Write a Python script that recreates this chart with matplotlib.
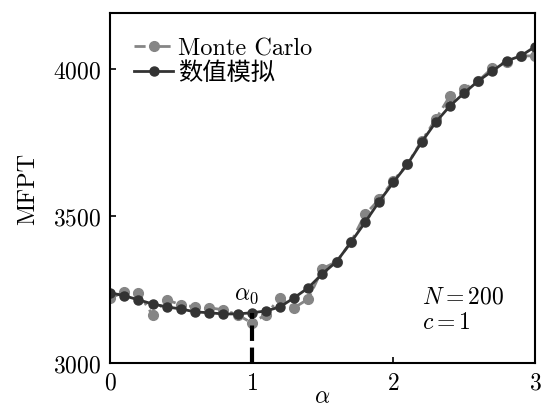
import matplotlib
matplotlib.use('Agg')
import matplotlib.pyplot as plt
import numpy as np

plt.rcParams['font.family'] = ['cmr10', 'Noto Sans CJK SC']
plt.rcParams['mathtext.fontset'] = 'cm'
plt.rcParams['axes.formatter.use_mathtext'] = True

alpha = np.round(np.arange(0, 3.01, 0.1), 1)

# 数值模拟
mfpt_num = [3239, 3229, 3215, 3201, 3191, 3184, 3174, 3171, 3167, 3167,
            3171, 3177, 3191, 3222, 3256, 3304, 3345, 3410, 3478, 3549,
            3614, 3676, 3751, 3819, 3874, 3918, 3959, 3993, 4027, 4044,
            4075]
# Monte Carlo
mfpt_mc = [3220, 3242, 3239, 3164, 3215, 3198, 3191, 3188, 3181, 3164,
           3137, 3164, 3222, 3188, 3218, 3321, 3345, 3410, 3505, 3556,
           3620, 3676, 3755, 3829, 3908, 3932, 3959, 4003, 4024, 4044,
           4044]

alpha0 = 1.0

fig = plt.figure(figsize=(5.42, 4.10), dpi=100)
ax = fig.add_axes([0.203, 0.112, 0.784, 0.854])

ax.plot(alpha, mfpt_mc, linestyle=(0, (4, 2, 1, 2)), color='#858585',
        marker='o', ms=7, lw=2, label='Monte Carlo')
ax.plot(alpha, mfpt_num, '-', color='#333333', marker='o', ms=6.5, lw=2,
        label='数值模拟')

# α0 处竖线
ax.plot([alpha0, alpha0], [3000, mfpt_num[10]], '--', color='black', lw=3)
ax.text(alpha0 - 0.04, mfpt_num[10] + 25, r'$\alpha_0$', fontsize=17,
        ha='center', va='bottom')

ax.text(2.2, 3205, r'$N=200$', fontsize=17)
ax.text(2.2, 3120, r'$c=1$', fontsize=17)

ax.set_xlim(0, 3)
ax.set_ylim(3000, 4190)
ax.set_xticks([0, 1, 2, 3])
ax.set_yticks([3000, 3500, 4000])
ax.tick_params(direction='in', labelsize=17, length=4, width=1.2, pad=6)
for s in ax.spines.values():
    s.set_linewidth(1.5)

ax.set_xlabel(r'$\alpha$', fontsize=17, labelpad=-6)
ax.set_ylabel('MFPT', fontsize=17.5, labelpad=10)

ax.legend(loc='upper left', frameon=False, fontsize=17.5, handlelength=1.6,
          borderaxespad=0.6, labelspacing=0.1, handletextpad=0.2)

fig.savefig('out.png', dpi=100)
